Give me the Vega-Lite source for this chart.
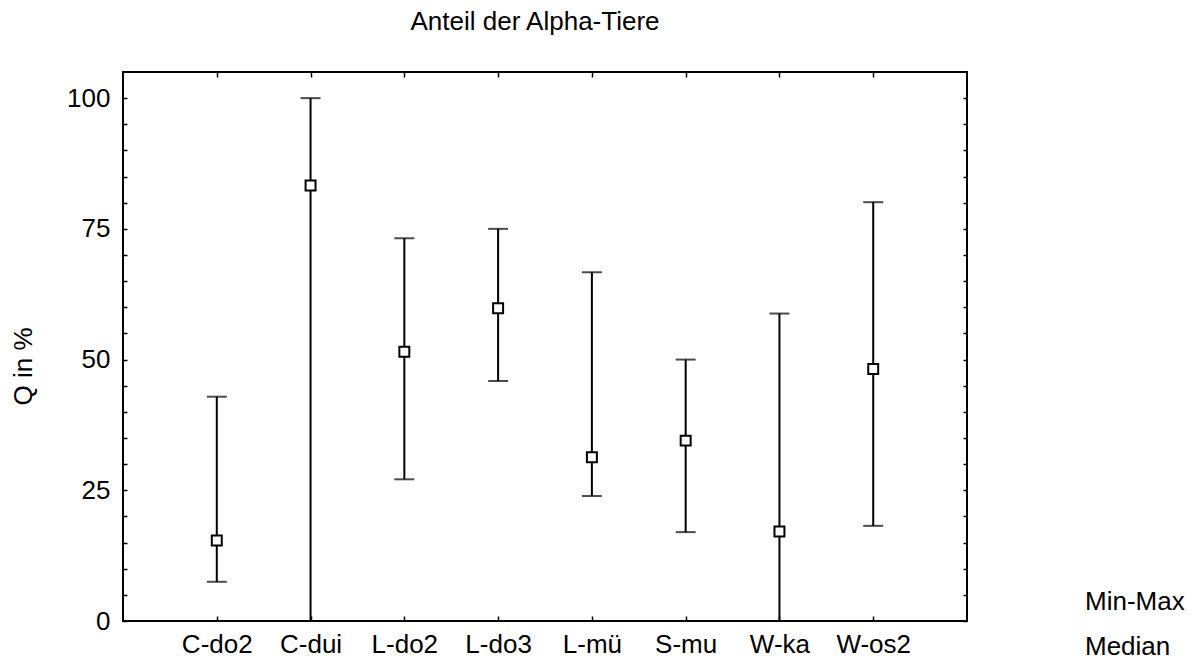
{
  "$schema": "https://vega.github.io/schema/vega-lite/v6.json",
  "width": 844,
  "height": 549,
  "autosize": {"type": "none"},
  "padding": {"left": 123, "top": 72, "right": 231, "bottom": 40},
  "background": "white",
  "title": {"text": "Anteil der Alpha-Tiere", "font": "Liberation Sans", "fontSize": 26, "fontWeight": "normal", "color": "black", "anchor": "middle", "dx": -10, "offset": 36},
  "config": {
    "view": {"stroke": "black", "strokeWidth": 2},
    "axis": {"labelFont": "Liberation Sans", "titleFont": "Liberation Sans", "labelColor": "black", "titleColor": "black", "tickColor": "black", "grid": false, "domain": false},
    "legend": {"symbolOpacity": 1, "symbolStrokeColor": "black", "symbolFillColor": "white", "symbolStrokeWidth": 1.5}
  },
  "data": {"values": [
    {"group": "C-do2", "min": 7.5, "max": 42.9, "median": 15.4, "series": "Median"},
    {"group": "C-dui", "min": 0, "max": 100, "median": 83.3, "series": "Median"},
    {"group": "L-do2", "min": 27.1, "max": 73.2, "median": 51.5, "series": "Median"},
    {"group": "L-do3", "min": 45.9, "max": 75.0, "median": 59.8, "series": "Median"},
    {"group": "L-mü", "min": 23.9, "max": 66.7, "median": 31.3, "series": "Median"},
    {"group": "S-mu", "min": 17.0, "max": 50.0, "median": 34.5, "series": "Median"},
    {"group": "W-ka", "min": 0, "max": 58.8, "median": 17.1, "series": "Median"},
    {"group": "W-os2", "min": 18.2, "max": 80.1, "median": 48.2, "series": "Median"}
  ]},
  "resolve": {"axis": {"x": "independent", "y": "independent"}},
  "layer": [
    {
      "mark": {"type": "rule", "color": "black", "strokeWidth": 2},
      "encoding": {
        "x": {"field": "group", "type": "nominal", "sort": null,
              "scale": {"type": "point", "padding": 1},
              "axis": {"orient": "bottom", "title": null, "labelAngle": 0, "labelFontSize": 26, "tickSize": -5, "tickWidth": 1.5, "labelPadding": 15}},
        "y": {"field": "min", "type": "quantitative",
              "scale": {"domain": [0, 105], "nice": false, "zero": true},
              "axis": {"orient": "left", "title": "Q in %", "titleFontSize": 26, "titleFontWeight": "normal", "titlePadding": 30, "titleY": 294,
                       "values": [0,5,10,15,20,25,30,35,40,45,50,55,60,65,70,75,80,85,90,95,100],
                       "labelExpr": "datum.value % 25 === 0 ? datum.label : ''",
                       "labelFontSize": 26, "tickSize": -4, "tickWidth": 1.5, "labelPadding": 17}},
        "y2": {"field": "max"}
      }
    },
    {
      "mark": {"type": "tick", "orient": "horizontal", "color": "black", "size": 20, "thickness": 2},
      "encoding": {
        "x": {"field": "group", "type": "nominal", "sort": null, "axis": null},
        "y": {"field": "min", "type": "quantitative", "axis": null}
      }
    },
    {
      "mark": {"type": "tick", "orient": "horizontal", "color": "black", "size": 20, "thickness": 2},
      "encoding": {
        "x": {"field": "group", "type": "nominal", "sort": null, "axis": null},
        "y": {"field": "max", "type": "quantitative", "axis": null}
      }
    },
    {
      "mark": {"type": "point", "fill": "white", "fillOpacity": 1, "stroke": "black", "strokeWidth": 2, "size": 1825},
      "encoding": {
        "x": {"field": "group", "type": "nominal", "sort": null,
              "axis": {"orient": "top", "title": null, "labels": false, "tickSize": -5, "tickWidth": 1.5}},
        "y": {"field": "median", "type": "quantitative",
              "axis": {"orient": "right", "title": null, "labels": false, "tickSize": -4, "tickWidth": 1.5,
                       "values": [0,5,10,15,20,25,30,35,40,45,50,55,60,65,70,75,80,85,90,95,100]}},
        "shape": {"field": "series", "type": "nominal",
                  "scale": {"domain": ["Min-Max", "Median"], "range": ["M-1,-0.83H1M0,-0.83V0.83M-1,0.83H1", "M-0.233,-0.233H0.233V0.233H-0.233Z"]},
                  "legend": {"title": null, "orient": "none", "legendX": 910, "legendY": 514,
                             "labelFont": "Liberation Sans", "labelFontSize": 26, "labelColor": "black",
                             "symbolSize": 900, "rowPadding": 13, "labelOffset": 20}}
      }
    }
  ]
}
